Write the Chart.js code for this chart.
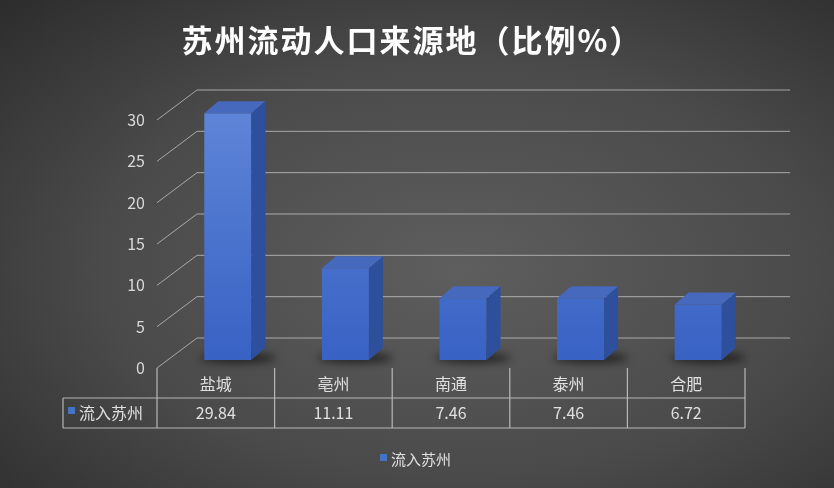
<!DOCTYPE html>
<html><head><meta charset="utf-8">
<script src="https://cdn.jsdelivr.net/npm/chart.js@4"></script>
<style>html,body{margin:0;padding:0;background:#3a3a3a}#w{width:834px;height:488px;background:radial-gradient(ellipse at 55% 55%,#5e5e5e 0%,#4a4a4a 55%,#2c2c2c 100%)}</style>
</head><body><div id="w"><canvas id="c" width="834" height="488"></canvas></div>
<script>
const categories=['盐城','亳州','南通','泰州','合肥'];
const values=[29.84,11.11,7.46,7.46,6.72];
const valueLabels=['29.84','11.11','7.46','7.46','6.72'];
const seriesName='流入苏州';
const yTicks=[0,5,10,15,20,25,30];
const title='苏州流动人口来源地（比例%）';
const FONT='"Noto Sans CJK SC","Liberation Sans",sans-serif';
const DX=40,DY=-30,BX=12,BY=-8,TX=14,TY=-12;
const deco={id:'deco',
beforeDatasetsDraw(ch){const c=ch.ctx,y=ch.scales.y,a=ch.chartArea;
 c.save();c.strokeStyle='rgba(200,200,200,0.75)';c.lineWidth=1;
 yTicks.forEach(t=>{const py=y.getPixelForValue(t);c.beginPath();c.moveTo(a.left,py);c.lineTo(a.left+DX,py+DY);c.lineTo(a.right+DX+5,py+DY);c.stroke();});
 c.fillStyle='#d9d9d9';c.font='16px '+FONT;c.textAlign='right';c.textBaseline='middle';
 yTicks.forEach(t=>c.fillText(String(t),a.left-12,y.getPixelForValue(t)));
 const m=ch.getDatasetMeta(0);
 m.data.forEach(b=>{c.save();c.filter='blur(4px)';c.fillStyle='rgba(0,0,0,0.6)';c.beginPath();c.ellipse(b.x+BX+10,b.base+BY-2,b.width/2+14,5,0,0,Math.PI*2);c.fill();c.restore();});
 c.restore();c.save();c.translate(BX,BY);},
afterDatasetsDraw(ch){const c=ch.ctx;c.restore();c.save();
 const m=ch.getDatasetMeta(0);
 m.data.forEach(b=>{const l=b.x-b.width/2+BX,r=b.x+b.width/2+BX,t=b.y+BY,bs=b.base+BY;
  c.fillStyle='#2d4f9c';c.beginPath();c.moveTo(r,t);c.lineTo(r+TX,t+TY);c.lineTo(r+TX,bs+TY);c.lineTo(r,bs);c.closePath();c.fill();
  c.fillStyle='#4669bd';c.beginPath();c.moveTo(l,t);c.lineTo(l+TX,t+TY);c.lineTo(r+TX,t+TY);c.lineTo(r,t);c.closePath();c.fill();});
 const a=ch.chartArea,x=ch.scales.x,n=categories.length,cw=(a.right-a.left)/n;
 const y0=a.bottom,y1=398,y2=428,lx=63;
 c.strokeStyle='rgba(210,210,210,0.8)';c.lineWidth=1.2;
 c.beginPath();c.moveTo(lx,y1);c.lineTo(a.right,y1);c.moveTo(lx,y2);c.lineTo(a.right,y2);c.moveTo(lx,y1);c.lineTo(lx,y2);
 for(let i=0;i<=n;i++){const px=a.left+i*cw;c.moveTo(px,y0);c.lineTo(px,y2);}c.stroke();
 c.fillStyle='#e0e0e0';c.font='16px '+FONT;c.textAlign='center';c.textBaseline='middle';
 categories.forEach((s,i)=>c.fillText(s,x.getPixelForValue(i),384));
 valueLabels.forEach((s,i)=>c.fillText(s,x.getPixelForValue(i),413));
 c.fillStyle='#4472c4';c.fillRect(68,407,7,7);c.fillStyle='#e0e0e0';c.textAlign='left';c.fillText(seriesName,79,413);
 c.fillStyle='#4472c4';c.fillRect(380,454,7,7);c.fillStyle='#e0e0e0';c.font='15px '+FONT;c.fillText(seriesName,391,459);
 c.fillStyle='#ffffff';c.font='bold 31px '+FONT;c.textAlign='center';
 if('letterSpacing' in c)c.letterSpacing='2px';
 c.fillText(title,412,40);
 c.restore();}};
const ctx=document.getElementById('c').getContext('2d');
const g=ctx.createLinearGradient(0,110,0,368);g.addColorStop(0,'#5f86d8');g.addColorStop(1,'#3862c4');
new Chart(ctx,{type:'bar',data:{labels:categories,datasets:[{label:seriesName,data:values,backgroundColor:g,barPercentage:0.4,categoryPercentage:1}]},
options:{responsive:false,animation:false,layout:{padding:{left:157,right:89,top:120,bottom:120}},
plugins:{legend:{display:false},tooltip:{enabled:false}},
scales:{x:{display:false},y:{display:false,min:0,max:30}}},plugins:[deco]});
</script></body></html>
